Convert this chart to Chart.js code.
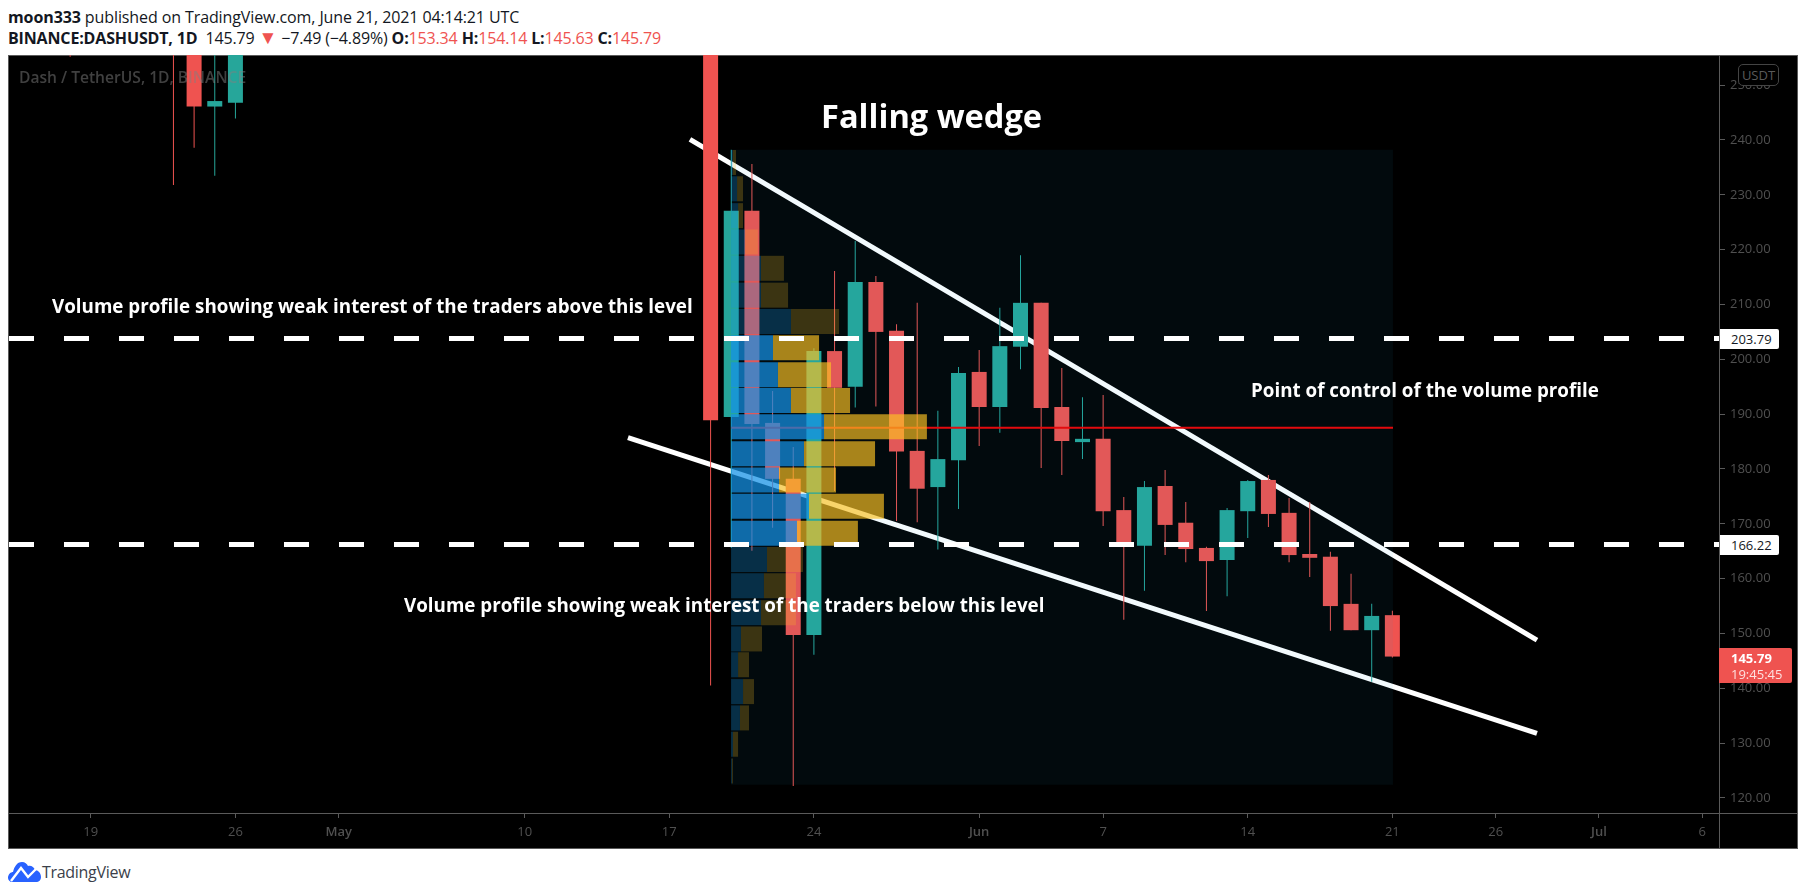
<!DOCTYPE html>
<html>
<head>
<meta charset="utf-8">
<title>DASHUSDT falling wedge</title>
<script src="https://cdn.jsdelivr.net/npm/chart.js@4/dist/chart.umd.min.js"></script>
<style>
  html, body { margin: 0; padding: 0; background: #fff; width: 1805px; height: 895px; overflow: hidden; }
  .abs { position: absolute; white-space: nowrap; }
  #panel { position: absolute; left: 8px; top: 55px; width: 1788px; height: 792px; background: #000; border: 1px solid #5a5a5a; }
  #chart { position: absolute; left: 0; top: 0; z-index: 2; }
  .rule { position: absolute; background: #5a5a5a; z-index: 1; }
  .head { font-family: "Open Sans", sans-serif; font-size: 16px; color: #131722; line-height: 20px; letter-spacing: -0.1px; }
  .head b { font-weight: 700; }
  .head .r { color: #ef5350; }
  .note { font-family: "Open Sans", sans-serif; font-weight: 700; color: #fff; z-index: 3; font-size: 18.8px; line-height: 24px; }
  .tag { font-family: "Open Sans", sans-serif; font-size: 13px; z-index: 3; box-sizing: border-box; }
</style>
</head>
<body>
<div class="abs head" style="left:8px;top:7px"><b>moon333</b> published on TradingView.com, June 21, 2021 04:14:21 UTC</div>
<div class="abs head" style="left:8px;top:28px;letter-spacing:-0.15px"><b>BINANCE:DASHUSDT, 1D</b>&nbsp; 145.79 <span class="r" style="font-size:19px;line-height:16px">▼</span> −7.49 (−4.89%) <b>O:</b><span class="r">153.34</span> <b>H:</b><span class="r">154.14</span> <b>L:</b><span class="r">145.63</span> <b>C:</b><span class="r">145.79</span></div>

<div id="panel"></div>
<div class="rule" style="left:1719px;top:56px;width:1px;height:792px"></div>
<div class="rule" style="left:9px;top:813px;width:1788px;height:1px"></div>

<canvas id="chart" width="1805" height="895"></canvas>

<div class="abs" style="left:19px;top:65px;font:600 15.6px/24px 'Open Sans',sans-serif;color:rgba(128,128,128,0.5);z-index:3">Dash / TetherUS, 1D, BINANCE</div>
<div class="abs note" style="left:821px;top:94px;font-size:32.6px;line-height:44px">Falling wedge</div>
<div class="abs note" style="left:52px;top:294px">Volume profile showing weak interest of the traders above this level</div>
<div class="abs note" style="left:404px;top:593px">Volume profile showing weak interest of the traders below this level</div>
<div class="abs note" style="left:1251px;top:378px">Point of control of the volume profile</div>

<div class="abs tag" style="left:1738px;top:64px;width:41px;height:22px;background:#000;border:1px solid #444;border-radius:5px;color:#5a5a5a;text-align:center;line-height:20px">USDT</div>
<div class="abs tag" style="left:1720px;top:329px;width:59px;height:20px;background:#fff;color:#131722;line-height:20px;padding-left:11px;border-radius:0 2px 2px 0">203.79</div>
<div class="abs tag" style="left:1720px;top:535px;width:59px;height:20px;background:#fff;color:#131722;line-height:20px;padding-left:11px;border-radius:0 2px 2px 0">166.22</div>
<div class="abs tag" style="left:1719px;top:648px;width:73px;height:35px;background:#ef5350;color:#fff;line-height:16px;padding:2px 0 0 12px;border-radius:0 2px 2px 0"><b>145.79</b><br><span style="color:#fde0df">19:45:45</span></div>

<svg class="abs" style="left:8px;top:862px" width="33" height="20" viewBox="0 0 33 20">
  <path d="M0 16 C0 12 3 10 5 10 C6 5 9 0 14 0 C17 0 19 2 20 4 C23 3 26 5 27 8 C30 8 33 11 33 15 C33 18 31 20 28 20 L4 20 C2 20 0 18 0 16 Z" fill="#2962ff"/>
  <path d="M3 19 L13 6 L20 15 L28 7" fill="none" stroke="#fff" stroke-width="2.4"/>
</svg>
<div class="abs" style="left:42px;top:861px;font:16px/22px 'Open Sans',sans-serif;color:#3b3f4a;letter-spacing:-0.3px">TradingView</div>

<script>
// days counted from Apr 19 2021
const days   = [-1, 4, 5, 6, 7, 30, 31, 32, 33, 34, 35, 36, 37, 38, 39, 40, 41, 42, 43, 44, 45, 46, 47, 48, 49, 50, 51, 52, 53, 54, 55, 56, 57, 58, 59, 60, 61, 62, 63];
const opens  = [272, 272, 262, 246.1, 246.8, 262, 189.5, 227.1, 188.4, 178.2, 149.7, 201.5, 195, 214.1, 205.2, 183.3, 176.7, 181.6, 197.7, 191.3, 202.3, 210.3, 191.3, 184.9, 185.5, 172.5, 166, 176.9, 170.2, 165.6, 163.4, 172.3, 178, 172, 164.5, 164, 155.4, 150.6, 153.34];
const closes = [262, 262, 246.1, 247.1, 265, 188.9, 227.1, 188.2, 178.2, 149.7, 201.5, 194.8, 214.1, 205, 183.2, 176.4, 181.8, 197.5, 191.3, 202.4, 210.3, 191.1, 185.1, 185.5, 172.3, 166.2, 176.7, 169.8, 165.4, 163.2, 172.5, 177.8, 171.8, 164.3, 163.8, 155, 150.6, 153.2, 145.79];
const highs  = [275, 275, 264, 262, 268, 265, 238.2, 235.6, 194.2, 184, 202, 216.1, 221.6, 215.2, 206.4, 210.3, 190.6, 198.6, 201.7, 209.4, 219, 210.3, 198.4, 193.1, 193.5, 174.9, 177.8, 179.8, 174, 165.8, 172.9, 178, 178.9, 174.7, 174, 164.9, 160.9, 155.4, 154.14];
const lows   = [255.2, 231.8, 238.6, 233.5, 243.9, 140.5, 165.6, 165.1, 169.3, 122.2, 146.1, 176, 191.2, 191.4, 170.5, 170.3, 165.3, 172.7, 184.2, 186.6, 198.2, 180.2, 178.9, 181.8, 169.6, 152.5, 157.8, 164.3, 163, 154.1, 156.8, 167.4, 169.4, 163, 160.3, 150.5, 150.6, 141.2, 145.63];

// volume profile rows: price centre, end of the up part, end of the down part (in days)
const profileStart = 30.99;
const profilePrices = [235.9, 231.1, 226.2, 221.4, 216.6, 211.7, 206.9, 202.1, 197.2, 192.5, 187.7, 182.8, 178, 173.2, 168.3, 163.5, 158.7, 153.8, 149, 144.3, 139.4, 134.6, 129.8, 124.9];
const profileUpEnd   = [31.07, 31.28, 31.33, 31.67, 32.44, 32.44, 33.89, 33.02, 33.26, 33.89, 35.49, 34.52, 33.31, 34.76, 34.18, 32.73, 32.58, 32.44, 31.47, 31.33, 31.57, 31.42, 31.08, 31.03];
const profileDownEnd = [31.23, 31.57, 31.57, 32.29, 33.55, 33.75, 36.22, 35.25, 35.83, 36.75, 40.47, 37.96, 36.07, 38.39, 37.13, 34.47, 34.13, 34.13, 32.49, 31.86, 32.1, 31.86, 31.33, 31.08];
const valueAreaHigh = 203.79;
const valueAreaLow = 166.22;

const boxDays = [30.99, 63.03];
const boxTop = 238.2;
const boxBottom = 122.4;
const pointOfControl = 187.5;

const upperWedge = [{ x: 29, y: 240.1 }, { x: 70, y: 148.8 }];
const lowerWedge = [{ x: 26, y: 185.7 }, { x: 70, y: 131.8 }];

const xMin = -4.008;
const xMax = 78.81;
const yMin = 117.26;
const yMax = 255.5;

const xTickDays = [0, 7, 12, 21, 28, 35, 43, 49, 56, 63, 68, 73, 78];
const xTickLabels = ['19', '26', 'May', '10', '17', '24', 'Jun', '7', '14', '21', '26', 'Jul', '6'];
const yTicks = [120, 130, 140, 150, 160, 170, 180, 190, 200, 210, 220, 230, 240, 250];

const UP = '#26a69a';
const DOWN = '#ef5350';
const candleColors = days.map((d, i) => closes[i] >= opens[i] ? UP : DOWN);

const inValueArea = p => p < valueAreaHigh && p > valueAreaLow;

const flatLine = (data, color, width, order, extra) => Object.assign({
  type: 'line', data, borderColor: color, borderWidth: width, pointRadius: 0, order, tension: 0
}, extra);

new Chart(document.getElementById('chart'), {
  type: 'bar',
  data: {
    datasets: [
      flatLine(upperWedge, '#fff', 5, 10, { borderCapStyle: 'butt' }),
      flatLine(lowerWedge, '#fff', 5, 10, { borderCapStyle: 'butt' }),
      {
        label: 'wicks',
        data: days.map((d, i) => ({ x: d, y: [lows[i], highs[i]] })),
        backgroundColor: candleColors,
        barThickness: 1,
        inflateAmount: 0,
        grouped: false,
        order: 9
      },
      {
        label: 'bodies',
        data: days.map((d, i) => ({ x: d, y: [opens[i], closes[i]] })),
        backgroundColor: candleColors,
        barThickness: 15,
        inflateAmount: 0,
        grouped: false,
        order: 8
      },
      flatLine(boxDays.map(x => ({ x, y: pointOfControl })), '#f00000', 2, 7),
      flatLine(boxDays.map(x => ({ x, y: boxTop })), 'transparent', 0, 6, {
        fill: { target: { value: boxBottom } },
        backgroundColor: 'rgba(40,170,225,0.06)'
      }),
      {
        label: 'profile up',
        indexAxis: 'y',
        data: profilePrices.map((p, i) => ({ y: p, x: [profileStart, profileUpEnd[i]] })),
        backgroundColor: profilePrices.map(p => inValueArea(p) ? 'rgba(21,146,230,0.72)' : 'rgba(21,146,230,0.27)'),
        barThickness: 25,
        inflateAmount: 0,
        grouped: false,
        order: 5
      },
      {
        label: 'profile down',
        indexAxis: 'y',
        data: profilePrices.map((p, i) => ({ y: p, x: [profileUpEnd[i], profileDownEnd[i]] })),
        backgroundColor: profilePrices.map(p => inValueArea(p) ? 'rgba(251,193,35,0.67)' : 'rgba(251,193,35,0.23)'),
        barThickness: 25,
        inflateAmount: 0,
        grouped: false,
        order: 5
      },
      flatLine([{ x: xMin, y: valueAreaHigh }, { x: xMax, y: valueAreaHigh }], '#fff', 5, 1, { borderDash: [25, 30], borderDashOffset: -1 }),
      flatLine([{ x: xMin, y: valueAreaLow }, { x: xMax, y: valueAreaLow }], '#fff', 5, 1, { borderDash: [25, 30], borderDashOffset: -1 })
    ]
  },
  options: {
    responsive: false,
    devicePixelRatio: 1,
    animation: false,
    layout: { padding: { left: 8, top: 55, right: 8, bottom: 47 } },
    plugins: { legend: { display: false }, tooltip: { enabled: false } },
    scales: {
      x: {
        type: 'linear',
        offset: false,
        min: xMin,
        max: xMax,
        afterFit: s => { s.height = 35; },
        afterBuildTicks: s => { s.ticks = xTickDays.map(value => ({ value })); },
        grid: { offset: false, drawOnChartArea: false, drawTicks: true, tickLength: 5, color: '#5a5a5a' },
        border: { display: false },
        ticks: {
          autoSkip: false,
          maxRotation: 0,
          padding: 6,
          color: '#505050',
          font: ctx => ({ family: 'Open Sans', size: 13, weight: ctx.tick && /[a-z]/i.test(xTickLabels[xTickDays.indexOf(ctx.tick.value)]) ? '600' : '400' }),
          callback: v => xTickLabels[xTickDays.indexOf(v)]
        }
      },
      y: {
        type: 'linear',
        position: 'right',
        offset: false,
        min: yMin,
        max: yMax,
        afterFit: s => { s.width = 78; },
        afterBuildTicks: s => { s.ticks = yTicks.map(value => ({ value })); },
        grid: { offset: false, drawOnChartArea: false, drawTicks: true, tickLength: 6, color: '#5a5a5a' },
        border: { display: false },
        ticks: {
          padding: 5,
          color: '#505050',
          font: { family: 'Open Sans', size: 13 },
          callback: v => v.toFixed(2)
        }
      }
    }
  }
});
</script>
</body>
</html>
